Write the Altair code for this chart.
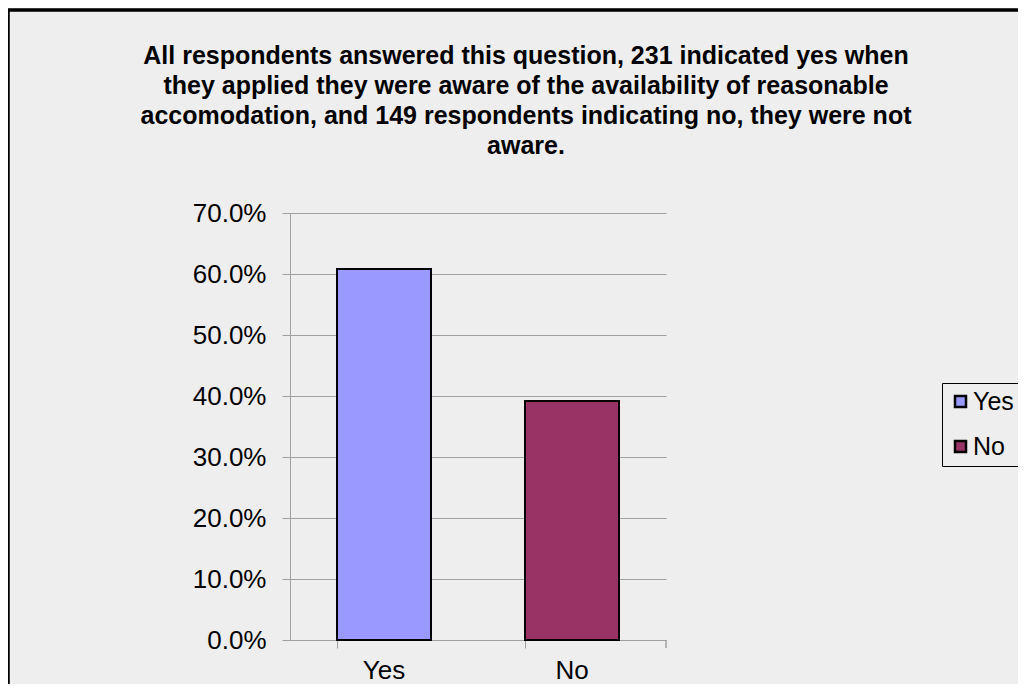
import altair as alt
import pandas as pd

categories = ["Yes", "No"]
shares = [0.608, 0.392]
colors = ["#9999ff", "#993366"]
y_ticks = [0.0, 0.1, 0.2, 0.3, 0.4, 0.5, 0.6, 0.7]
title_lines = [
    "All respondents answered this question, 231 indicated yes when",
    "they applied they were aware of the availability of reasonable",
    "accomodation, and 149 respondents indicating no, they were not",
    "aware.",
]

df = pd.DataFrame({"answer": categories, "share": shares})

FONT = "Liberation Sans"
BG = "#eeeeee"
GRID = "#a0a0a0"

x_enc = alt.X(
    "answer:N",
    sort=categories,
    title=None,
    scale=alt.Scale(paddingInner=0.5, paddingOuter=0.25),
    axis=alt.Axis(
        labelAngle=0,
        labelFontSize=26,
        labelFont=FONT,
        labelColor="black",
        labelPadding=9,
        tickSize=8,
        tickColor=GRID,
        bandPosition=0,
        domainColor=GRID,
        grid=False,
    ),
)

y_enc = alt.Y(
    "share:Q",
    title=None,
    scale=alt.Scale(domain=[0, 0.7], nice=False),
    axis=alt.Axis(
        values=y_ticks,
        format=".1%",
        labelFontSize=26,
        labelFont=FONT,
        labelColor="black",
        labelPadding=16,
        tickSize=8,
        tickColor=GRID,
        domainColor=GRID,
        gridColor=GRID,
        gridOpacity=1,
    ),
)

bars = alt.Chart(df).mark_bar(stroke="black", strokeWidth=2).encode(
    x=x_enc,
    y=y_enc,
    fill=alt.Fill(
        "answer:N",
        sort=categories,
        scale=alt.Scale(domain=categories, range=colors),
        legend=alt.Legend(
            title=None,
            orient="none",
            legendX=652,
            legendY=170,
            labelFontSize=25,
            labelFont=FONT,
            labelColor="black",
            labelOffset=0,
            symbolType="square",
            symbolSize=121,
            symbolStrokeColor="black",
            symbolStrokeWidth=2.5,
            strokeColor="black",
            fillColor=BG,
            padding=6,
            rowPadding=19,
        ),
    ),
)

# last x-axis tick at the right edge of the category band
end_tick = alt.Chart(df).mark_rule(color=GRID).encode(
    x=alt.value(376), y=alt.value(427), y2=alt.value(435)
)

# outer frame of the chart area
frame = alt.Chart(df).mark_rect(fill=None, stroke="black", strokeWidth=3, clip=False).encode(
    x=alt.value(-282), x2=alt.value(1200), y=alt.value(-203), y2=alt.value(1200)
)

chart = (
    alt.layer(bars, end_tick, frame)
    .properties(
        width=376,
        height=427,
        background=BG,
        autosize=alt.AutoSizeParams(type="none"),
        padding={"left": 282, "top": 205, "right": 352, "bottom": 44},
        title=alt.TitleParams(
            text=title_lines,
            fontSize=25,
            font=FONT,
            fontWeight="bold",
            color="black",
            anchor="middle",
            frame="group",
            dx=48,
            offset=-150,
            lineHeight=30,
        ),
    )
    .configure_view(stroke=None)
)

chart.save("out.html", embed_options={"renderer": "svg", "actions": False})
